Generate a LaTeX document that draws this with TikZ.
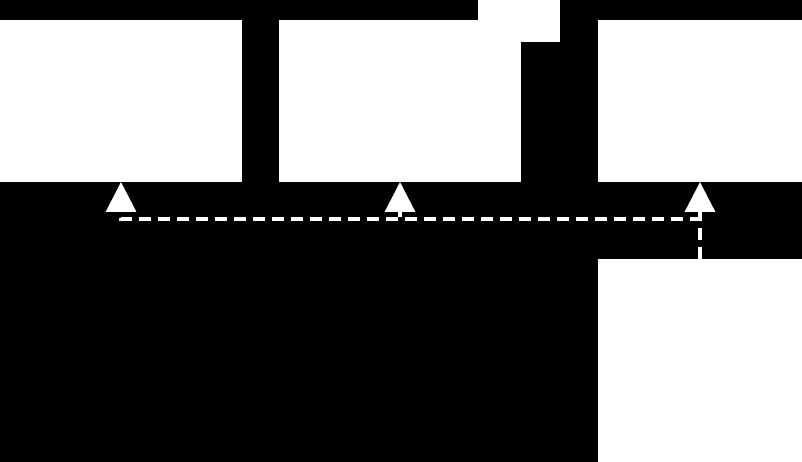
\documentclass[tikz,border=0pt]{standalone}
\usetikzlibrary{arrows.meta}
\begin{document}
\begin{tikzpicture}[x=1pt,y=-1pt,
  box/.style={fill=white,draw=none,inner sep=0pt,outer sep=0pt,anchor=north west},
  dep/.style={draw=white,line width=3.2pt,dash pattern=on 12pt off 7pt,
    -{Triangle[width=30pt,length=30pt,fill=white,color=white]}}]
\useasboundingbox (0,0) rectangle (802,462);
\fill[black] (0,0) rectangle (802,462);
\node[box,minimum width=242pt,minimum height=162pt] (A) at (0,20) {};
\node[box,minimum width=242pt,minimum height=162pt] (B) at (279,20) {};
\node[box,minimum width=82pt,minimum height=42pt] (C) at (478,0) {};
\node[box,minimum width=204pt,minimum height=162pt] (D) at (598,20) {};
\node[box,minimum width=204pt,minimum height=203pt] (E) at (598,259) {};
\draw[dep] (E.north) -- ++(0,-40) -| (A.south);
\draw[dep] (E.north) -- ++(0,-40) -| (B.south);
\draw[dep] (E.north) -- (D.south);
\end{tikzpicture}
\end{document}
